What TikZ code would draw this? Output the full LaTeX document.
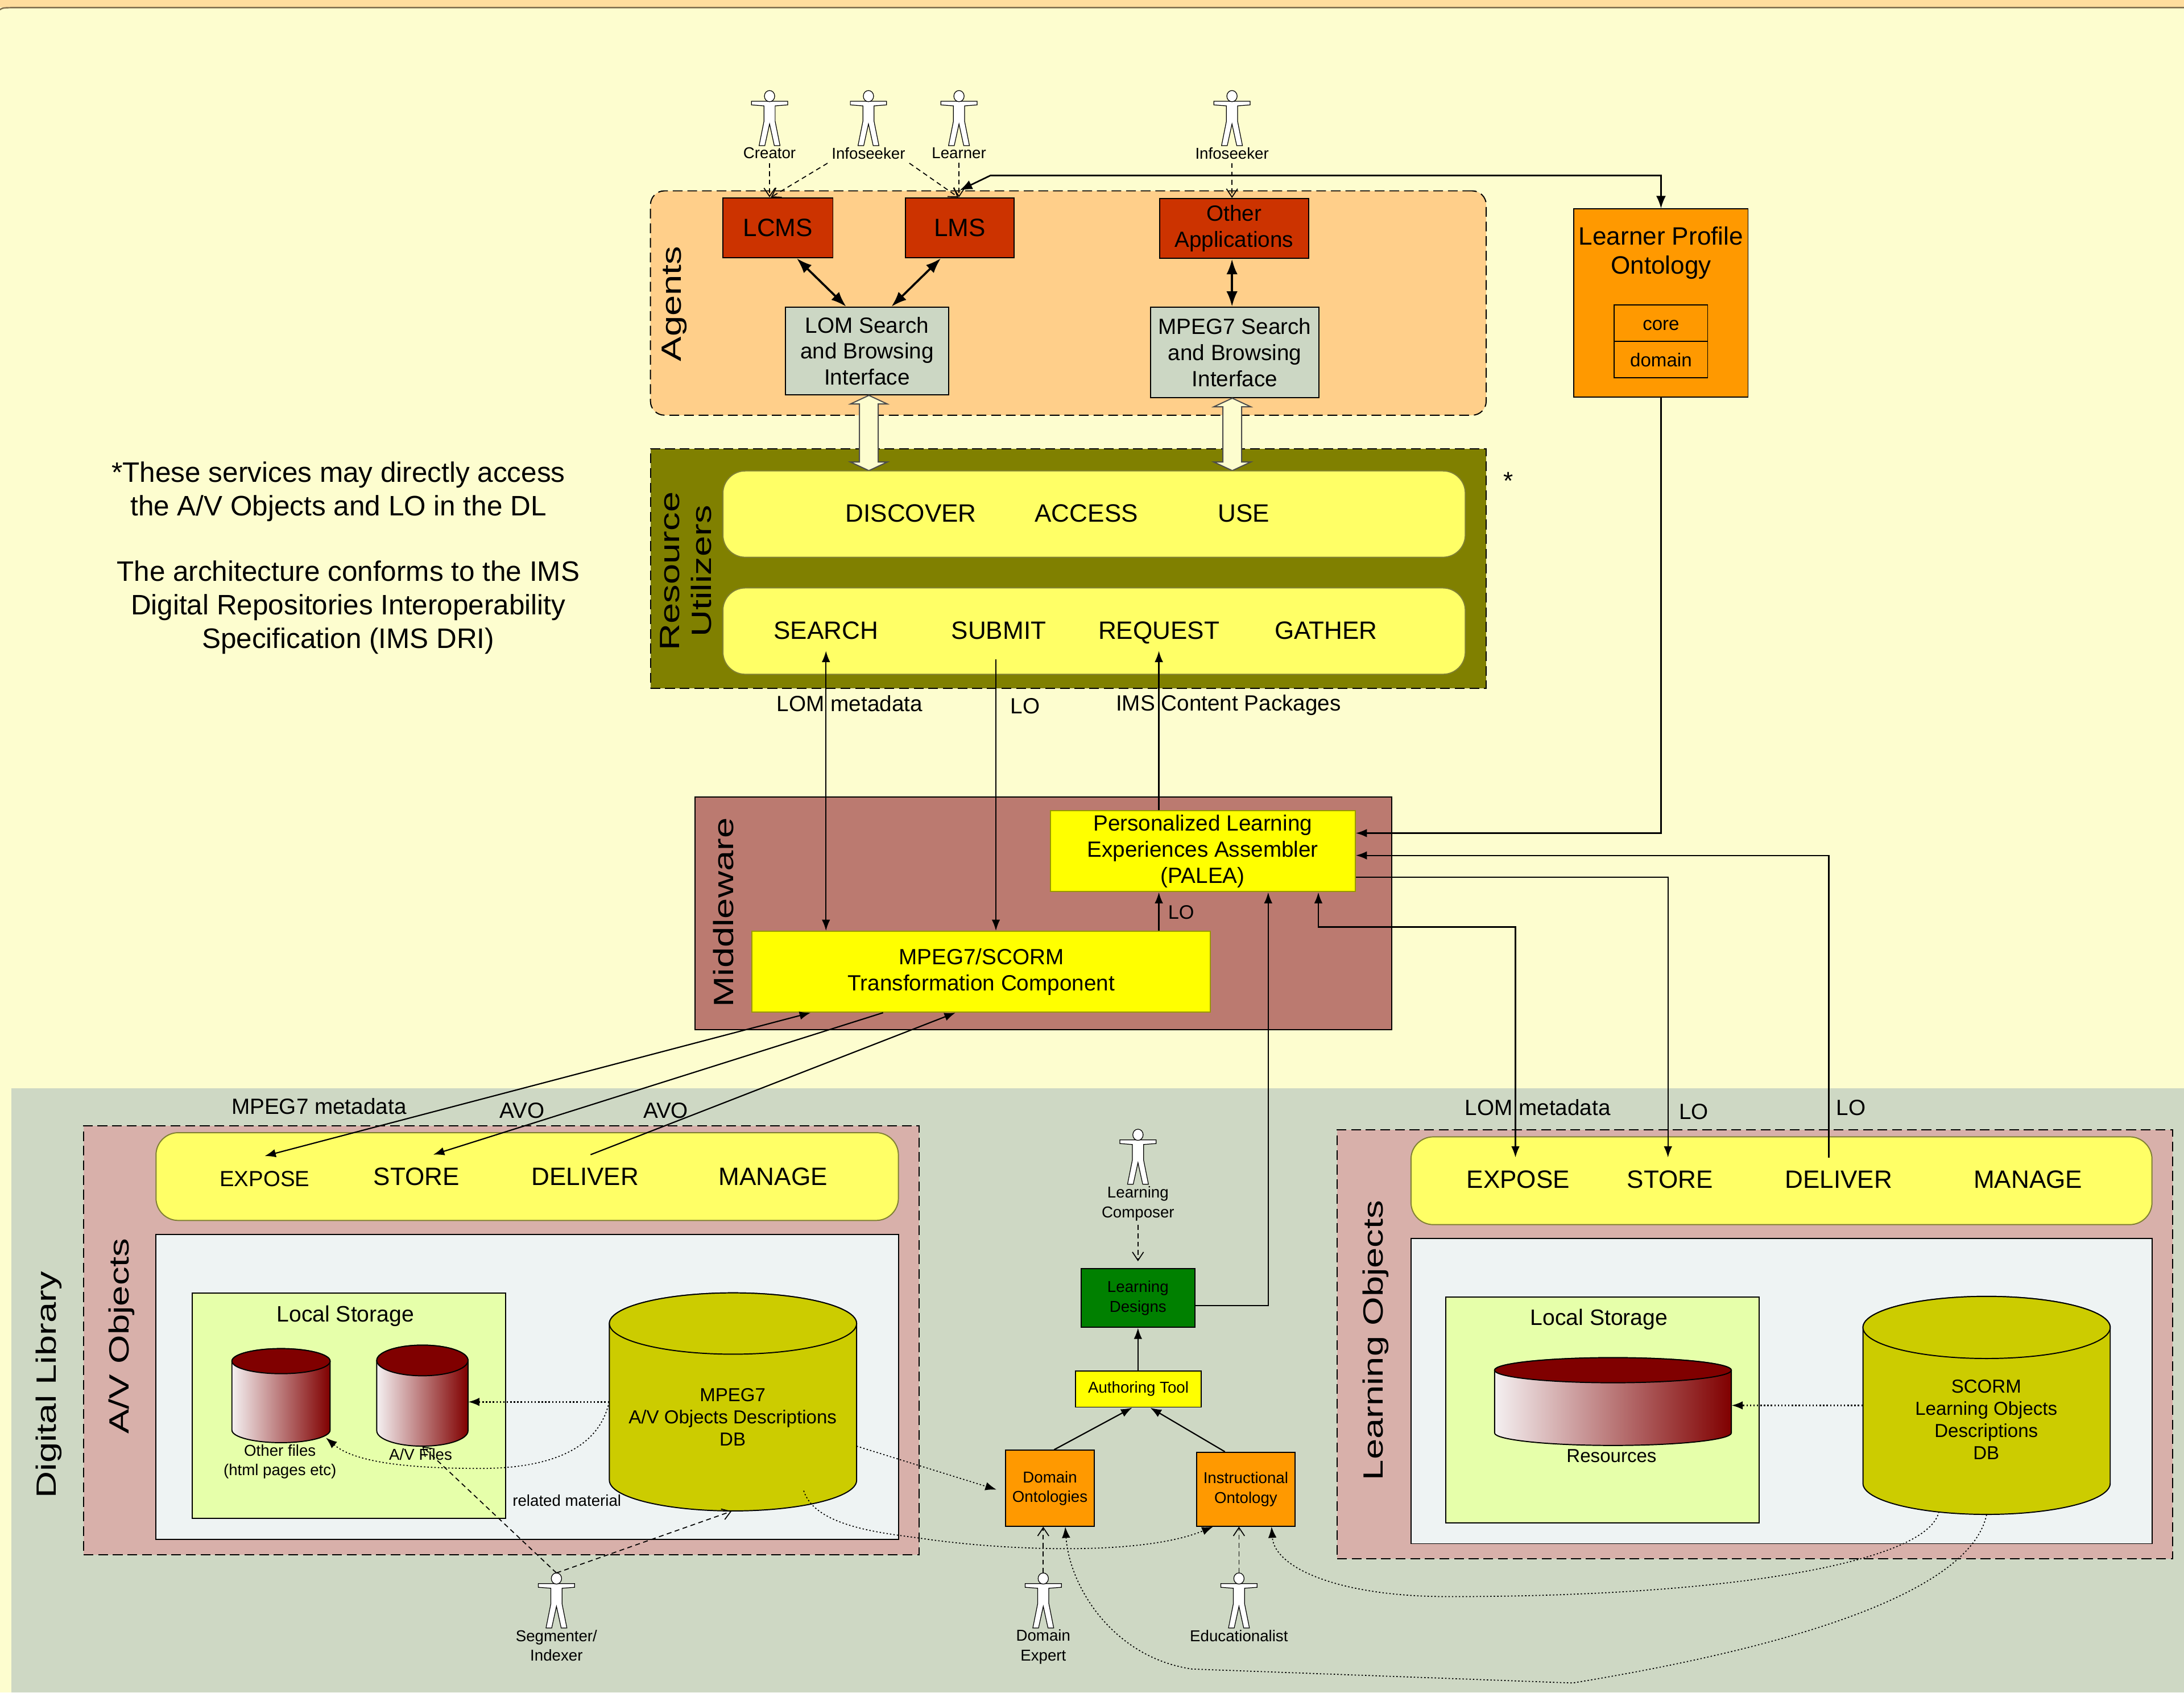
\documentclass[tikz,border=0pt]{standalone}
\usepackage{fontspec}
\setmainfont{Liberation Sans}
\newfontfamily\widefont[FakeStretch=1.33]{Liberation Sans}
\usetikzlibrary{arrows.meta,shapes.arrows}
\definecolor{pagebg}{HTML}{FDFDCF}
\definecolor{bandbg}{HTML}{FFDD9E}
\definecolor{dlbg}{HTML}{CED8C4}
\definecolor{agentbg}{HTML}{FFCF8A}
\definecolor{utilbg}{HTML}{808000}
\definecolor{midbg}{HTML}{BB7A70}
\definecolor{storebg}{HTML}{D8B0AA}
\definecolor{panelbg}{HTML}{FFFF66}
\definecolor{innerbg}{HTML}{EEF3F3}
\definecolor{localbg}{HTML}{E6FFAA}
\definecolor{appred}{HTML}{CC3300}
\definecolor{ifacebg}{HTML}{CCD7C4}
\definecolor{ontoorange}{HTML}{FF9900}
\definecolor{designgreen}{HTML}{008000}
\definecolor{dbolive}{HTML}{CCCC00}
\definecolor{dbred}{HTML}{800000}
\definecolor{dbwhite}{HTML}{F4F0F1}
\definecolor{puryellow}{HTML}{FFFF00}
\tikzset{
    >={Latex[length=8pt,width=6pt]},
    box/.style={draw,inner sep=0,line width=0.8pt},
    size/.style 2 args={minimum width=#1pt,minimum height=#2pt},
    zone/.style={box,dash pattern=on 7pt off 3.5pt},
    panel/.style={box,draw=black!50!panelbg,fill=panelbg,rounded corners=16pt},
    word/.style={inner sep=0,minimum height=30pt,text height=13.5pt,text depth=0pt},
    wire/.style={line width=0.9pt},
    fatwire/.style={line width=1.5pt,<->,>={Latex[length=11pt,width=8pt]}},
    dashwire/.style={line width=0.7pt,dash pattern=on 3.5pt off 2.5pt,-{Straight Barb[length=6pt,width=8pt]}},
    dotwire/.style={line width=0.7pt,dash pattern=on 1pt off 1.5pt,->},
    blockarrow/.style={draw=black!70,fill=pagebg,shape=double arrow,rotate=90,inner xsep=0,inner ysep=6.35pt,double arrow head extend=6.55pt,double arrow tip angle=130,line width=0.8pt},
    actorlabel/.style={inner sep=1pt,outer sep=2pt,align=center},
    actor/.pic={
        \coordinate (-head) at (0,0);
        \draw[fill=white,line width=0.5pt] (-13,7.7) -- (13,7.7) -- (13,10.3) -- (4,11) -- (4,22) -- (7.5,39.5) -- (3.4,39.5) -- (0,24) -- (-3.4,39.5) -- (-7.5,39.5) -- (-4,22) -- (-4,11) -- (-13,10.3) -- cycle;
        \draw[fill=white,line width=0.5pt] (0,4) ellipse[x radius=3.7pt,y radius=4pt];
    }
}
\begin{document}
\begin{tikzpicture}[x=1pt,y=-1pt]
    \providecommand{\bigfont}{\widefont\fontsize{20pt}{23pt}\selectfont}
    \providecommand{\notefont}{\fontsize{20.2pt}{24pt}\selectfont}
    \providecommand{\wordfont}{\fontsize{18pt}{22pt}\selectfont}
    \providecommand{\appfont}{\fontsize{18pt}{22pt}\selectfont}
    \providecommand{\profilefont}{\fontsize{18pt}{21pt}\selectfont}
    \providecommand{\bodyfont}{\fontsize{15.8pt}{18.7pt}\selectfont}
    \providecommand{\localfont}{\fontsize{16pt}{18pt}\selectfont}
    \providecommand{\dbfont}{\fontsize{13.5pt}{16pt}\selectfont}
    \providecommand{\smallfont}{\fontsize{11.3pt}{14pt}\selectfont}
    \providecommand{\dbcylinder}[8]{%
        \pgfmathsetmacro{\cylrx}{(#3-#2)/2}
        \pgfmathsetmacro{\cylcx}{(#2+#3)/2}
        \pgfmathsetmacro{\cylcy}{(#4+#5)/2}
        \pgfmathsetmacro{\cylyt}{#4+#6}
        \pgfmathsetmacro{\cylyb}{#5-#6}
        \path[draw,line width=0.8pt,#7] (#2,\cylyt) -- (#2,\cylyb) arc[start angle=180,end angle=360,x radius=\cylrx pt,y radius=#6pt] -- (#3,\cylyt) arc[start angle=0,end angle=180,x radius=\cylrx pt,y radius=#6pt] -- cycle;
        \draw[line width=0.8pt,fill=#8] (\cylcx,\cylyt) ellipse[x radius=\cylrx pt,y radius=#6pt];
        \pgfmathsetmacro{\cylw}{#3-#2}
        \pgfmathsetmacro{\cylh}{#5-#4}
        \node[inner sep=0,size={\cylw}{\cylh}] (#1) at (\cylcx,\cylcy) {};
    }
    \useasboundingbox (0,0) rectangle (1568,1214.8);
    \fill[pagebg] (0,0) rectangle (1568,1214.8);
    \fill[bandbg] (0,0) rectangle (1568,5.5);
    \draw[line width=1pt,black!50!bandbg] (0,7) .. controls (1,6) and (2,5.5) .. (8,5.5) -- (1568,5.5);
    \fill[dlbg] (8,781) rectangle (1568,1214.8);
    % zones
    \node[zone,size={600}{161},fill=agentbg,rounded corners=10pt] (agents) at (767,217.5) {};
    \node[zone,size={600}{172},fill=utilbg] (utilizers) at (767,408) {};
    \node[box,size={500}{167},fill=midbg] (middleware) at (749,655.5) {};
    \node[zone,size={600}{308},fill=storebg] (avzone) at (360,962) {};
    \node[zone,size={600}{308},fill=storebg] (lozone) at (1260,965) {};
    \node[font=\bigfont,rotate=90] (agentstitle) at (484,218) {Agents};
    \node[font=\bigfont,rotate=90,align=center] (utilizerstitle) at (492.5,410) {Resource\\Utilizers};
    \node[font=\bigfont,rotate=90] (middlewaretitle) at (519.5,655) {Middleware};
    \node[font=\bigfont,rotate=90] (avtitle) at (87.5,959) {A/V Objects};
    \node[font=\bigfont,rotate=90] (lotitle) at (987.5,962) {Learning Objects};
    \node[font=\bigfont,rotate=90] (dltitle) at (35,994) {Digital Library};
    % agents
    \node[box,size={79}{43},fill=appred,font=\appfont] (lcms) at (558.5,163.5) {LCMS};
    \node[box,size={78}{43},fill=appred,font=\appfont] (lms) at (689,163.5) {LMS};
    \node[box,size={107}{43},fill=appred,font=\bodyfont,align=center] (otherapps) at (886,164) {Other\\Applications};
    \node[box,size={117}{63},fill=ifacebg,font=\bodyfont,align=center] (lomiface) at (622.5,252) {LOM Search\\and Browsing\\Interface};
    \node[box,size={121}{65},fill=ifacebg,font=\bodyfont,align=center] (mpegiface) at (886.5,253) {MPEG7 Search\\and Browsing\\Interface};
    \node[blockarrow,minimum height=54pt] (lomblock) at (623.8,310.8) {};
    \node[blockarrow,minimum height=52pt] (mpegblock) at (884.7,311.8) {};
    % resource utilizers
    \node[panel,size={533}{62}] (upperpanel) at (785.5,369) {};
    \node[panel,size={533}{62}] (lowerpanel) at (785.5,453) {};
    \node[word,font=\wordfont] (discover) at (654,368) {DISCOVER};
    \node[word,font=\wordfont] (access) at (780,368) {ACCESS};
    \node[word,font=\wordfont] (use) at (893,368) {USE};
    \node[word,font=\wordfont] (search) at (593,452) {SEARCH};
    \node[word,font=\wordfont] (submit) at (717,452) {SUBMIT};
    \node[word,font=\wordfont] (request) at (832,452) {REQUEST};
    \node[word,font=\wordfont] (gather) at (952,452) {GATHER};
    \node[font=\wordfont] (star) at (1083,345) {*};
    % side notes
    \node[font=\notefont,align=center] (noteone) at (243,353) {*These services may directly access\\the A/V Objects and LO in the DL};
    \node[font=\notefont,align=center] (notetwo) at (250,436) {The architecture conforms to the IMS\\Digital Repositories Interoperability\\Specification (IMS DRI)};
    % learner profile
    \node[box,size={125}{135},fill=ontoorange] (profile) at (1192.5,217.5) {};
    \node[font=\profilefont,align=center] (profiletitle) at (1192.5,181.5) {Learner Profile\\Ontology};
    \node[box,size={67}{26},font=\fontsize{13.5pt}{16pt}\selectfont,text height=10pt,text depth=0pt] (core) at (1192.5,232) {core};
    \node[box,size={67}{26},font=\fontsize{13.5pt}{16pt}\selectfont,text height=10pt,text depth=0pt] (domain) at (1192.5,258) {domain};
    % middleware
    \node[box,draw=black!40!puryellow,size={219}{58},fill=puryellow,font=\bodyfont,align=center] (palea) at (863.5,611) {Personalized Learning\\Experiences Assembler\\(PALEA)};
    \node[box,draw=black!40!puryellow,size={329}{58},fill=puryellow,font=\bodyfont,align=center] (trans) at (704.5,697.5) {MPEG7/SCORM\\Transformation Component};
    % a/v objects
    \node[panel,size={533}{63}] (avpanel) at (378.5,844.5) {};
    \node[box,size={533}{219},fill=innerbg] (avinner) at (378.5,995.5) {};
    \node[box,size={225}{162},fill=localbg] (avlocal) at (250.5,1009) {};
    \node[word,font=\fontsize{15.7pt}{20pt}\selectfont] (exposeav) at (190,845) {EXPOSE};
    \node[word,font=\wordfont] (storeav) at (299,844) {STORE};
    \node[word,font=\wordfont] (deliverav) at (420,844) {DELIVER};
    \node[word,font=\wordfont] (manageav) at (555,844) {MANAGE};
    \node[font=\localfont] (avlocaltitle) at (248,944.5) {Local Storage};
    \dbcylinder{otherfiles}{166.5}{237}{968}{1035.5}{9}{left color=dbwhite,right color=dbred}{dbred}
    \dbcylinder{avfiles}{270.5}{336}{965.5}{1038}{11}{left color=dbwhite,right color=dbred}{dbred}
    \dbcylinder{mpegdb}{437.5}{615}{928}{1084.5}{22}{fill=dbolive}{dbolive}
    \node[font=\smallfont,align=center] (otherlabel) at (201,1049) {Other files\\(html pages etc)};
    \node[font=\smallfont] (avlabel) at (302,1044) {A/V Files};
    \node[font=\dbfont,align=center] (mpegdblabel) at (526,1017) {MPEG7\\A/V Objects Descriptions\\DB};
    \node[font=\smallfont] (related) at (407,1077) {related material};
    % learning objects
    \node[panel,size={532}{63}] (lopanel) at (1279,847.5) {};
    \node[box,size={532}{219},fill=innerbg] (loinner) at (1279,998.5) {};
    \node[box,size={225}{162},fill=localbg] (lolocal) at (1150.5,1012) {};
    \node[word,font=\wordfont] (exposelo) at (1090,846) {EXPOSE};
    \node[word,font=\wordfont] (storelo) at (1199,846) {STORE};
    \node[word,font=\wordfont] (deliverlo) at (1320,846) {DELIVER};
    \node[word,font=\wordfont] (managelo) at (1456,846) {MANAGE};
    \node[font=\localfont] (lolocaltitle) at (1148,947) {Local Storage};
    \dbcylinder{resources}{1073}{1243}{974.5}{1037.5}{9}{left color=dbwhite,right color=dbred}{dbred}
    \dbcylinder{scormdb}{1337.5}{1515}{930.5}{1087}{22.3}{fill=dbolive}{dbolive}
    \node[font=\dbfont] (resourceslabel) at (1157,1045) {Resources};
    \node[font=\dbfont,align=center] (scormlabel) at (1426,1019) {SCORM\\Learning Objects\\Descriptions\\DB};
    % authoring chain
    \node[box,size={81.5}{42},fill=designgreen,font=\smallfont,align=center] (designs) at (817,931.7) {Learning\\Designs};
    \node[box,size={90}{26},fill=puryellow,font=\smallfont] (authoring) at (817.3,997) {Authoring Tool};
    \node[box,size={64}{54.5},fill=ontoorange,font=\smallfont,align=center] (domainonto) at (753.8,1068.2) {Domain\\Ontologies};
    \node[box,size={70.5}{53},fill=ontoorange,font=\smallfont,align=center] (instronto) at (894.4,1068.9) {Instructional\\Ontology};
    % actors
    \pic (creatorfig) at (552.5,65) {actor};
    \pic (seekerfig) at (623.5,65) {actor};
    \pic (learnerfig) at (688.5,65) {actor};
    \pic (othersfig) at (884.5,65) {actor};
    \pic (composerfig) at (817,810.5) {actor};
    \pic (segmenterfig) at (399.5,1129) {actor};
    \pic (expertfig) at (749,1129) {actor};
    \pic (educatorfig) at (889.5,1129) {actor};
    \node[actorlabel,font=\smallfont] (creator) at (552.5,110) {Creator};
    \node[actorlabel,font=\smallfont] (seeker) at (623.5,110) {Infoseeker};
    \node[actorlabel,font=\smallfont] (learner) at (688.5,110) {Learner};
    \node[actorlabel,font=\smallfont] (others) at (884.5,110) {Infoseeker};
    \node[actorlabel,font=\smallfont] (composer) at (817,864) {Learning\\Composer};
    \node[actorlabel,font=\smallfont] (segmenter) at (399.5,1181) {Segmenter/\\Indexer};
    \node[actorlabel,font=\smallfont] (expert) at (749,1182) {Domain\\Expert};
    \node[actorlabel,font=\smallfont] (educator) at (889.5,1174) {Educationalist};
    % connector labels
    \node[font=\bodyfont] (lomup) at (610,505) {LOM metadata};
    \node[font=\bodyfont] (loup) at (736,507) {LO};
    \node[font=\bodyfont] (imsup) at (882,506) {IMS Content Packages};
    \node[font=\fontsize{14pt}{16pt}\selectfont] (lomid) at (848,655) {LO};
    \node[font=\bodyfont] (mpegmeta) at (229,794) {MPEG7 metadata};
    \node[font=\bodyfont] (avoleft) at (375,797) {AVO};
    \node[font=\bodyfont] (avoright) at (478,797) {AVO};
    \node[font=\bodyfont] (lommeta) at (1104,795) {LOM metadata};
    \node[font=\bodyfont] (loleft) at (1216,798) {LO};
    \node[font=\bodyfont] (loright) at (1329,795) {LO};
    % dashed actor links
    \draw[dashwire] (creator.south) -- (creator.south |- lcms.north);
    \draw[dashwire] (seeker.south west) -- ([xshift=-5pt]lcms.north);
    \draw[dashwire] (seeker.south east) -- ([xshift=-1pt]lms.north);
    \draw[dashwire] (learner.south) -- (learner.south |- lms.north);
    \draw[dashwire] (others.south) -- (others.south |- otherapps.north);
    \draw[dashwire] (composer.south) -- ([yshift=5pt]designs.north);
    \draw[dashwire] (segmenterfig-head) -- (avfiles.south);
    \draw[dashwire] (segmenterfig-head) -- ([xshift=-1pt]mpegdb.south);
    \draw[dashwire] (expertfig-head) -- (expertfig-head |- domainonto.south);
    \draw[dashwire] (educatorfig-head) -- (educatorfig-head |- instronto.south);
    % agents links
    \draw[fatwire] ([xshift=13.5pt]lcms.south) -- ([xshift=-15pt]lomiface.north);
    \draw[fatwire] ([xshift=-13.5pt]lms.south) -- ([xshift=17.5pt]lomiface.north);
    \draw[fatwire] ([xshift=-1.5pt]otherapps.south) -- ([xshift=-2pt]mpegiface.north);
    \coordinate (lmsbend) at (711,126);
    \draw[line width=1.1pt,<->,>={Latex[length=9pt,width=7pt]}] (profile.north) |- (lmsbend) -- ([yshift=5pt]lms.north);
    % middleware links
    \draw[wire,<->] (search.south) -- (search.south |- trans.north);
    \draw[wire,->] ([xshift=-2pt,yshift=-6pt]submit.south) -- ([xshift=-2pt]submit.south |- trans.north);
    \draw[wire,->] (request.south |- palea.north) -- (request.south);
    \draw[wire,->] (request.south |- trans.north) -- (request.south |- palea.south);
    \draw[wire,->] (profile.south) |- ([yshift=13pt]palea.east);
    \draw[wire,->] ([xshift=-7pt]deliverlo.north) |- ([yshift=-3pt]palea.east);
    \draw[wire,->] ([yshift=-18.5pt]palea.east) -| ([xshift=-1.5pt]storelo.north);
    \draw[wire,<->] ([xshift=83pt]palea.south) -- ++(0,25) -| ([xshift=-2pt]exposelo.north);
    \draw[wire,->] ([yshift=-5.3pt]designs.east) -| ([xshift=47pt]palea.south);
    \draw[wire,<->] (exposeav.north) -- ([xshift=-122.5pt]trans.south);
    \draw[wire,->] ([xshift=-70.5pt]trans.south) -- ([xshift=12pt]storeav.north);
    \draw[wire,->] ([xshift=4pt]deliverav.north) -- ([xshift=-18.5pt]trans.south);
    % authoring links
    \draw[wire,->] (authoring.north -| designs.south) -- (designs.south);
    \draw[wire,->] ([xshift=3pt]domainonto.north) -- ([xshift=-4.5pt]authoring.south);
    \draw[wire,->] ([xshift=-15pt]instronto.north) -- ([xshift=8.5pt]authoring.south);
    % dotted links
    \draw[dotwire,line width=1pt] (mpegdb.west) -- (avfiles.east |- mpegdb.west);
    \draw[dotwire,line width=1pt] (scormdb.west) -- (resources.east |- scormdb.west);
    \draw[dotwire] (mpegdb.west) .. controls (430,1040) and (395,1054) .. (345,1054) .. controls (295,1054) and (255,1050) .. (234,1032);
    \draw[dotwire] (615,1038) -- ([xshift=-6pt,yshift=-1pt]domainonto.west);
    \draw[dotwire] (577,1070) .. controls (585,1095) and (630,1100) .. (660,1104) .. controls (720,1113) and (820,1117) .. ([xshift=-23.5pt]instronto.south);
    \draw[dotwire] (1392,1085) .. controls (1385,1120) and (1250,1146) .. (1040,1146) .. controls (960,1146) and (915,1125) .. ([xshift=18.5pt]instronto.south);
    \draw[dotwire] (scormdb.south) .. controls (1415,1140) and (1300,1180) .. (1129,1208) -- (856,1198) .. controls (800,1190) and (768,1140) .. ([xshift=11pt]domainonto.south);
\end{tikzpicture}
\end{document}
